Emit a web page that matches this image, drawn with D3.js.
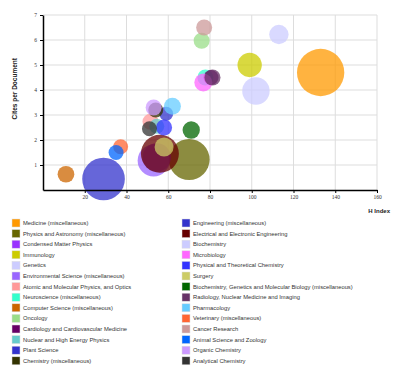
<!DOCTYPE html>
<html lang="en">
<head>
    <meta charset="UTF-8">
    <style>
        body { margin: 0; background: #fff; }
        .grid line { stroke: #ddd; stroke-width: 1px; }
        .axis path, .axis line { stroke: #000; }
        .axis text { font-family: "Liberation Serif", serif; font-size: 5.5px; fill: #333; }
        .legend text { font-family: "Liberation Sans", sans-serif; font-size: 5.8px; fill: #333; }
    </style>
    <title>H Index vs Cites per Document</title>
</head>
<body>
<script src="https://d3js.org/d3.v7.min.js" charset="utf-8"></script>
<script>
    var names = [
        "Medicine (miscellaneous)", "Physics and Astronomy (miscellaneous)", "Condensed Matter Physics",
        "Immunology", "Genetics", "Environmental Science (miscellaneous)",
        "Atomic and Molecular Physics, and Optics", "Neuroscience (miscellaneous)",
        "Computer Science (miscellaneous)", "Oncology", "Cardiology and Cardiovascular Medicine",
        "Nuclear and High Energy Physics", "Plant Science", "Chemistry (miscellaneous)",
        "Engineering (miscellaneous)", "Electrical and Electronic Engineering", "Biochemistry",
        "Microbiology", "Physical and Theoretical Chemistry", "Surgery",
        "Biochemistry, Genetics and Molecular Biology (miscellaneous)",
        "Radiology, Nuclear Medicine and Imaging", "Pharmacology", "Veterinary (miscellaneous)",
        "Cancer Research", "Animal Science and Zoology", "Organic Chemistry", "Analytical Chemistry"
    ];
    var colors = [
        "#ff9900", "#666600", "#9933ff", "#cccc00", "#ccccff", "#9966ff", "#ff9999",
        "#33ffcc", "#cc6600", "#99dd88", "#660066", "#66cccc", "#3333cc", "#333300",
        "#3333cc", "#660000", "#ccccff", "#ff66ff", "#3333ff", "#cccc66", "#006600",
        "#663366", "#66ccff", "#ff6633", "#cc9999", "#0066ff", "#cc99ff", "#333333"
    ];
    var hIndex = [133, 70, 54.5, 99, 113, 53, 51.5, 77.8, 11, 76, 80.5, 54.5, 59, 54,
                  29, 56, 102, 76.8, 58, 58, 71, 81.2, 62, 37.2, 77.2, 35, 53, 51];
    var cites = [4.7, 1.22, 1.3, 5.0, 6.22, 1.18, 2.73, 4.5, 0.63, 5.97, 4.5, 2.55, 3.05, 3.2,
                 0.44, 1.45, 3.96, 4.3, 2.5, 1.72, 2.4, 4.5, 3.35, 1.73, 6.5, 1.5, 3.3, 2.45];
    var docs = [56000, 42000, 20000, 14800, 9400, 25600, 6400, 6400, 7000, 6400, 5600, 5600, 4900, 5600,
                45400, 36000, 18800, 8100, 6400, 9000, 7500, 6400, 7200, 5600, 6400, 5600, 6400, 5600];
    var xTicks = [20, 40, 60, 80, 100, 120, 140, 160];
    var yTicks = [1, 2, 3, 4, 5, 6, 7];

    var width = 400, height = 370;
    var margin = {left: 43, top: 15, right: 23, bottom: 180};

    var svg = d3.select('body').append('svg').attr('width', width).attr('height', height);

    var x = d3.scaleLinear().domain([0, 160]).range([margin.left, width - margin.right]);
    var y = d3.scaleLinear().domain([0, 7]).range([height - margin.bottom, margin.top]);
    var r = d3.scaleSqrt().domain([0, 60000]).range([0, 24.5]);

    // grid
    var grid = svg.append('g').attr('class', 'grid');
    grid.selectAll('.gx').data(xTicks).enter().append('line')
        .attr('x1', function (d) { return x(d); }).attr('x2', function (d) { return x(d); })
        .attr('y1', y(0)).attr('y2', y(7));
    grid.selectAll('.gy').data(yTicks).enter().append('line')
        .attr('x1', x(0)).attr('x2', x(160))
        .attr('y1', function (d) { return y(d); }).attr('y2', function (d) { return y(d); });

    // bubbles
    var points = names.map(function (n, i) {
        return {name: n, color: colors[i], h: hIndex[i], c: cites[i], n: docs[i]};
    });
    svg.append('g').attr('class', 'bubbles')
        .selectAll('circle')
        .data(points)
        .enter()
        .append('circle')
        .attr('cx', function (d) { return x(d.h); })
        .attr('cy', function (d) { return y(d.c); })
        .attr('r', function (d) { return r(d.n); })
        .attr('fill', function (d) { return d.color; })
        .attr('fill-opacity', 0.75);

    // axes
    svg.append('g').attr('class', 'axis')
        .attr('transform', 'translate(0,' + y(0) + ')')
        .call(d3.axisBottom(x).tickValues(xTicks).tickFormat(d3.format('d'))
            .tickSize(3).tickSizeOuter(0).tickPadding(2))
        .selectAll('path').attr('stroke-width', 1.5);
    svg.append('g').attr('class', 'axis')
        .attr('transform', 'translate(' + x(0) + ',0)')
        .call(d3.axisLeft(y).tickValues(yTicks).tickFormat(d3.format('d'))
            .tickSize(3).tickSizeOuter(0).tickPadding(3))
        .selectAll('path').attr('stroke-width', 1.5);

    svg.append('text')
        .attr('transform', 'translate(15,' + y(4.05) + ') rotate(-90)')
        .attr('text-anchor', 'middle')
        .attr('dy', '0.35em')
        .style('font-family', '"Liberation Sans", sans-serif')
        .style('font-size', '6.5px')
        .style('font-weight', 'bold')
        .style('fill', '#222')
        .text('Cites per Document');

    svg.append('text')
        .attr('x', 390).attr('y', 213)
        .attr('text-anchor', 'end')
        .style('font-family', '"Liberation Sans", sans-serif')
        .style('font-size', '6px')
        .style('font-weight', 'bold')
        .style('fill', '#222')
        .text('H Index');

    // legend
    var rowH = 10.6, firstRow = 223;
    var legend = svg.append('g').attr('class', 'legend')
        .selectAll('g')
        .data(points)
        .enter()
        .append('g')
        .attr('transform', function (d, i) {
            var col = i < 14 ? 0 : 1;
            var row = i % 14;
            return 'translate(' + (col ? 182 : 12) + ',' + (firstRow + row * rowH) + ')';
        });
    legend.append('rect')
        .attr('x', 0).attr('y', -4)
        .attr('width', 8).attr('height', 8)
        .attr('fill', function (d) { return d.color; })
        .attr('stroke', '#ddd')
        .attr('stroke-width', 0.5);
    legend.append('text')
        .attr('x', 11).attr('y', 0)
        .attr('dy', '0.35em')
        .text(function (d) { return d.name; });
</script>
</body>
</html>
